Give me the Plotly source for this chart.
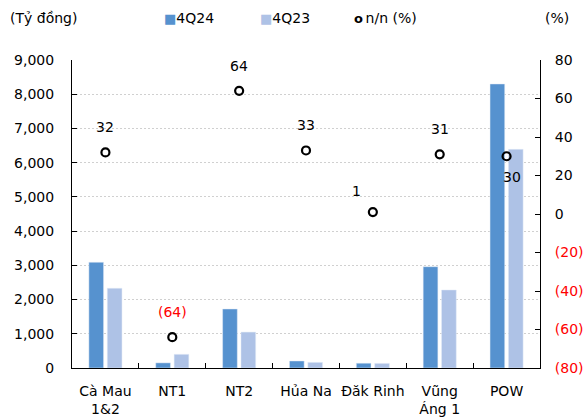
import plotly.graph_objects as go

categories = ["Cà Mau<br>1&2", "NT1", "NT2", "Hủa Na", "Đăk Rinh", "Vũng<br>Áng 1", "POW"]
q424 = [3090, 150, 1725, 205, 140, 2960, 8300]
q423 = [2330, 400, 1050, 165, 135, 2280, 6390]
yoy = [32, -64, 64, 33, 1, 31, 30]

left_ticks = [0, 1000, 2000, 3000, 4000, 5000, 6000, 7000, 8000, 9000]
right_ticks = [-80, -60, -40, -20, 0, 20, 40, 60, 80]

def fmt_pct(v):
    return f"({abs(v)})" if v < 0 else f"{v}"

def fmt_tick(v):
    return f'<span style="color:#FF0000">({abs(v)})</span>' if v < 0 else f"{v}"

FONT = "DejaVu Sans"
FS = 14
C1 = "#5692CF"
C2 = "#AEC2E6"

fig = go.Figure()
fig.add_trace(go.Bar(x=categories, y=q424, name="4Q24", marker_color=C1, showlegend=False))
fig.add_trace(go.Bar(x=categories, y=q423, name="4Q23", marker_color=C2, showlegend=False))
fig.add_trace(go.Scatter(x=categories, y=yoy, name="n/n (%)", mode="markers", yaxis="y2",
                         showlegend=False,
                         marker=dict(symbol="circle-open", size=8, color="black",
                                     line=dict(width=2.2, color="black"))))

# data labels (pixel offsets relative to markers)
offsets = {"Đăk Rinh": (-16, 21), "POW": (5, -21)}
for c, v in zip(categories, yoy):
    dx, dy = offsets.get(c, (0, 25))
    fig.add_annotation(x=c, y=v, yref="y2", text=fmt_pct(v), showarrow=False,
                       xshift=dx, yshift=dy,
                       font=dict(family=FONT, size=FS, color="#FF0000" if v < 0 else "black"))

# header texts and legend (as text)
YH = 1.136
def head(xp, text, anchor="left"):
    fig.add_annotation(x=xp, xref="paper", xanchor=anchor, y=YH, yref="paper",
                       yanchor="middle", text=text, showarrow=False,
                       font=dict(family=FONT, size=FS, color="black"))

head(-0.137, "(Tỷ đồng)")
head(1.066, "(%)", anchor="right")
head(0.193, f'<span style="color:{C1};font-size:13px">■</span>4Q24')
head(0.398, f'<span style="color:{C2};font-size:13px">■</span>4Q23')
head(0.598, '<span style="font-size:13px"><b>o</b>\u2009</span>n/n (%)')

fig.update_layout(
    width=587, height=419,
    margin=dict(l=72, r=47, t=60, b=51, autoexpand=False),
    paper_bgcolor="white", plot_bgcolor="white",
    font=dict(family=FONT, size=FS, color="black"),
    barmode="group", bargap=0.45, bargroupgap=0.2,
    showlegend=False,
    xaxis=dict(showline=True, linecolor="black", linewidth=1, ticks="inside", ticklen=5,
               tickson="boundaries", tickcolor="black", showgrid=False, tickangle=0,
               automargin=False, ticklabelstandoff=10),
    yaxis=dict(range=[0, 9000], tickvals=left_ticks, tickformat=",", showline=True,
               linecolor="black", linewidth=1, ticks="inside", ticklen=5, tickcolor="black",
               showgrid=True, gridcolor="#D0D0D0", griddash="2px,2px", gridwidth=1,
               zeroline=False, ticklabelstandoff=14, automargin=False),
    yaxis2=dict(range=[-80, 80], tickvals=right_ticks, ticktext=[fmt_tick(v) for v in right_ticks],
                overlaying="y", side="right", showline=True, linecolor="black", linewidth=1,
                ticks="inside", ticklen=5, tickcolor="black", showgrid=False, zeroline=False,
                ticklabelstandoff=11, automargin=False),
)

fig.write_html("out.html", config={"displayModeBar": False},
               post_script="document.body.style.margin='0';document.body.style.overflow='hidden';")
